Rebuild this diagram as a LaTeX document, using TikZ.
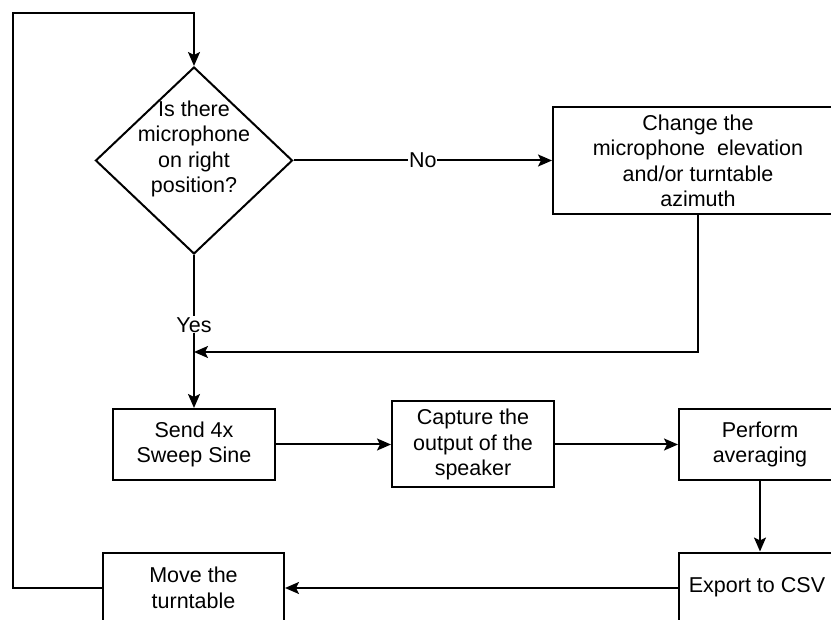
\documentclass[tikz,border=0pt]{standalone}
\usepackage{fontspec}
\setmainfont{Liberation Sans}
\usetikzlibrary{shapes.geometric,arrows.meta}
\begin{document}
\begin{tikzpicture}[x=1pt,y=-1pt,
  every node/.style={font=\fontsize{21.5}{25.5}\selectfont},
  box/.style={draw,line width=2pt,align=center,inner sep=0pt},
  conn/.style={line width=2pt},
  arr/.style={conn,-{Stealth[length=14pt,width=12pt,inset=3pt]}},
  lbl/.style={fill=white,inner sep=1pt}]
\useasboundingbox (0,0) rectangle (831,620);
\clip (0,0) rectangle (831,620);
\node[diamond,draw,line width=2pt,minimum width=197pt,minimum height=187pt,inner sep=0pt] (dec) at (194,160.5) {};
\node[align=center,inner sep=0pt] (dectext) at (194,149) {Is there\\microphone\\on right\\position?};
\node[box,minimum width=290pt,minimum height=107pt] (change) at (698,160.5) {};
\node[align=center,inner sep=0pt] (changetext) at (698,161) {Change the\\microphone~ elevation\\and/or turntable\\azimuth};
\node[box,minimum width=162pt,minimum height=71pt] (send) at (194,444.5) {Send 4x\\Sweep Sine};
\node[box,minimum width=162pt,minimum height=86pt] (capture) at (473,444.5) {Capture the\\output of the\\speaker};
\node[box,minimum width=162pt,minimum height=71pt] (perform) at (760,444.5) {Perform\\averaging};
\node[box,minimum width=162pt,minimum height=71pt] (export) at (760,588) {};
\node[inner sep=0pt] (exporttext) at (757,587) {Export to CSV};
\node[box,minimum width=181pt,minimum height=71pt] (move) at (193.5,588) {Move the\\turntable};
\coordinate (merge) at (194,352);
\coordinate (tl) at (13,13);
\draw[arr] (dec.east) -- node[lbl]{No} (change.west);
\draw[conn] (dec.south) -- node[lbl,pos=0.72]{Yes} (merge);
\draw[arr] (change.south) |- (merge);
\draw[arr] (merge) -- (send.north);
\draw[arr] (send.east) -- (capture.west);
\draw[arr] (capture.east) -- (perform.west);
\draw[arr] (perform.south) -- (export.north);
\draw[arr] (export.west) -- (move.east);
\draw[arr] (move.west) -- (move.west -| tl) -- (tl) -| (dec.north);
\end{tikzpicture}
\end{document}
